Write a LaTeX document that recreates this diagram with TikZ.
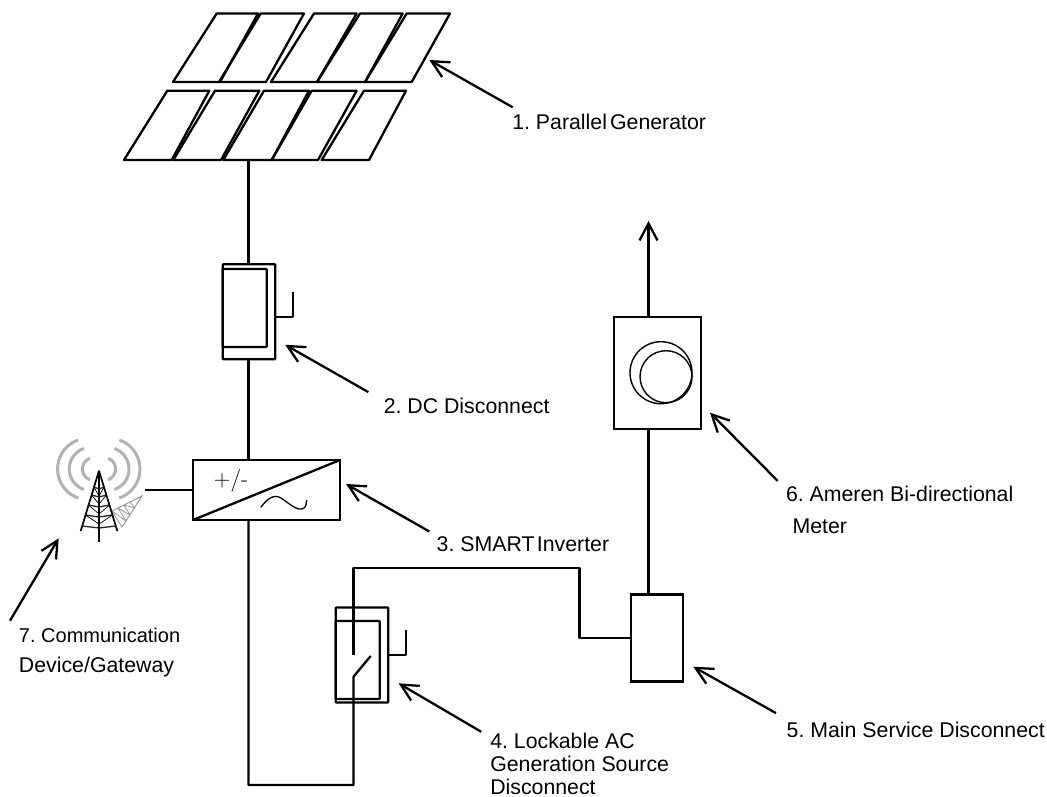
\documentclass[tikz,border=0pt]{standalone}
\usepackage{fontspec}
\setsansfont{Liberation Sans}
\usetikzlibrary{arrows.meta,positioning,calc}
\tikzset{
  wire/.style={line width=2.3pt, line join=round},
  panelbox/.style={draw, line width=2.3pt, line join=round},
  housebox/.style={draw, line width=2.3pt, rounded corners=0.8pt, inner sep=0pt, outer sep=0pt, minimum width=52.5pt, minimum height=95pt},
  innerbox/.style={draw, line width=2.3pt, rounded corners=0.8pt, inner sep=0pt, outer sep=0pt, minimum width=44pt, minimum height=78pt},
  plainbox/.style={draw, line width=2.3pt, inner sep=0pt, outer sep=0pt},
  leadarrow/.style={{Straight Barb[length=17pt,width=17pt]}-, line width=2.3pt},
  uparrow/.style={-{Straight Barb[length=17pt,width=18pt]}, line width=2.3pt},
  lbl/.style={font=\sffamily\fontsize{21.3}{23}\selectfont\frenchspacing, align=left, inner sep=0pt, outer sep=0pt},
  sigarc/.style={line width=3pt, draw=black!30},
  towerbar/.style={line width=1.3pt, draw=black!85}
}
\begin{document}
\begin{tikzpicture}[x=1pt,y=-1pt]
\useasboundingbox (0,0) rectangle (1047,797);
% solar array
\foreach \tl/\tr/\br/\bl in {
  216.7/258/220/173,260.7/304/266/219,314/356.7/317/271,360/402.7/365/317,406.7/450/411.7/365}
  \draw[panelbox] (\tl,13.5) -- (\tr,13.5) -- (\br,82) -- (\bl,82) -- cycle;
\foreach \tl/\tr/\br/\bl in {
  167.3/209.3/171.7/124,215/259.3/221/173.3,264/309/271.7/223.3,311.7/356.7/318/271.7,364/406/369/321.7}
  \draw[panelbox] (\tl,90.7) -- (\tr,90.7) -- (\br,160) -- (\bl,160) -- cycle;
\coordinate (arraybase) at (248.5,160);
\coordinate (arrayedge) at (429.3,60);
% boxes
\node[housebox] (dcbox) at (249,311.8) {};
\node[innerbox] (dcinner) at (244.7,308) {};
\node[plainbox, minimum width=147pt, minimum height=60pt] (inverter) at (266.5,490) {};
\node[housebox] (acbox) at (362,655) {};
\node[innerbox] (acinner) at (357.7,660) {};
\node[plainbox, minimum width=52pt, minimum height=87pt] (mainbox) at (657,638) {};
\node[plainbox, minimum width=87pt, minimum height=112pt] (meter) at (657.5,373) {};
\node[draw, circle, line width=1.4pt, inner sep=0pt, minimum size=62pt] (dialout) at (661,372.7) {};
\node[draw, circle, line width=1.4pt, inner sep=0pt, minimum size=52pt] (dialin) at (666,376.7) {};
\coordinate (meterout) at (648.5,221);
\coordinate (acturn) at (248.5,785);
\coordinate (acpole) at (353.5,655);
\coordinate (acblade) at (353.5,676.7);
\coordinate (acopen) at (370.7,656);
\coordinate (acriser) at (353.5,568.3);
\coordinate (svcdrop) at (579.5,638);
\coordinate (towerfeed) at (145,490);
\coordinate (towerfoot) at (58.7,538.3);
% wiring
\draw[wire] (arraybase) -- (arraybase |- dcbox.north);
\draw[wire] (arraybase |- dcbox.south) -- (arraybase |- inverter.north);
\draw[wire] (arraybase |- inverter.south) -- (acturn) -| (acblade) -- (acopen);
\draw[wire] (acpole) -- (acriser) -| (svcdrop) -- (mainbox.west);
\draw[wire] (meterout |- mainbox.north) -- (meterout |- meter.south);
\draw[uparrow] (meterout |- meter.north) -- (meterout);
\draw[wire] (towerfeed) -- (inverter.west);
% handles
\draw[wire] ($(dcbox.east)+(0,5.5)$) -- ++(17.5,0) -- ++(0,-25.5);
\draw[wire] (acbox.east) -- ++(17.5,0) -- ++(0,-25.5);
% inverter face
\draw[wire] (inverter.south west) -- (inverter.north east);
\node[font=\fontsize{23}{23}\selectfont, inner sep=0pt] (plusminus) at (231,481) {+/-};
\draw[line width=1.3pt] (260.7,507.3) .. controls (268,498) and (274,494) .. (281,498) .. controls (290,504) and (298,512) .. (304,508) .. controls (306,507) and (306.5,503) .. (306.7,500);
% gateway tower
\foreach \xl/\xr/\r in {88.3/109.3/30.7,91/107.3/21.7,93.7/104.3/11.3} {
  \draw[sigarc] plot[domain=109:251, samples=24] ({\xl+\r*cos(\x)},{469+\r*sin(\x)});
  \draw[sigarc] plot[domain=-71:71, samples=24] ({\xr+\r*cos(\x)},{469+\r*sin(\x)});
}
\draw[line width=1pt, draw=black!40] (112,511) -- (142,496) -- (122,527) -- cycle;
\draw[line width=0.8pt, draw=black!40] (118,508) -- (126,521) (124,505) -- (130,515) (130,502) -- (135,508) (118,508) -- (130,515) (124,505) -- (135,508) (112,511) -- (126,521);
\draw[line width=1.7pt] (99,470.7) -- (80.7,531) (99,470.7) -- (117.3,531);
\draw[line width=2.6pt] (99,470.7) -- (99,541.7);
\foreach \ya/\wa in {487/5,495/7.4,505/10.5,515/13.5,526/16.9}
  \draw[towerbar] (99-\wa,\ya) -- (99,\ya+2) -- (99+\wa,\ya);
\foreach \ya/\wa in {487/5,495/7.4,505/10.5,515/13.5}
  \draw[line width=0.7pt] (99-\wa,\ya) -- (99,\ya+9) -- (99+\wa,\ya);
% labels
\node[lbl, anchor=north west] (lblpv) at (512.3,113.7) {1. Parallel\hspace{-2.8pt} Generator};
\node[lbl, below right=39.2pt and 108.5pt of dcbox] (lbldc) {2. DC Disconnect};
\node[lbl, below right=16.4pt and 96.7pt of inverter] (lblinv) {3. SMART\hspace{-3.5pt} Inverter};
\node[lbl, below right=30.5pt and 102pt of acbox] (lblac) {4. Lockable AC\\Generation Source\\Disconnect};
\node[lbl, below right=40.5pt and 103.7pt of mainbox] (lblmain) {5. Main Service Disconnect};
\node[lbl, below right=57.4pt and 85pt of meter] (lblmeter) {6. Ameren Bi-directional\\[8.3pt]\hspace*{6.5pt}Meter};
\node[lbl, anchor=north west] (lblgate) at (19,628) {{\fontsize{20}{23}\selectfont 7. Communication}\\[7pt]Device/Gateway};
% leaders
\draw[leadarrow] (arrayedge) -- ($(lblpv.north west)+(0.4,-6.4)$);
\draw[leadarrow] ($(dcbox.south east)+(10,-14.5)$) -- ($(lbldc.north west)+(-15.4,-6.4)$);
\draw[leadarrow] ($(inverter.east)+(6,-6)$) -- ($(lblinv.north west)+(-7.4,-4.9)$);
\draw[leadarrow] ($(acbox.south east)+(10.3,-19.2)$) -- ($(lblac.north west)+(-9,-1.2)$);
\draw[leadarrow] ($(mainbox.south east)+(10.3,-14.8)$) -- ($(lblmain.north west)+(-10.7,-8.9)$);
\draw[leadarrow] ($(meter.south east)+(9,-16.3)$) -- ($(lblmeter.north west)+(-8.3,-5.5)$);
\draw[leadarrow] (towerfoot) -- ($(lblgate.north west)+(-9,-7.3)$);
\end{tikzpicture}
\end{document}
